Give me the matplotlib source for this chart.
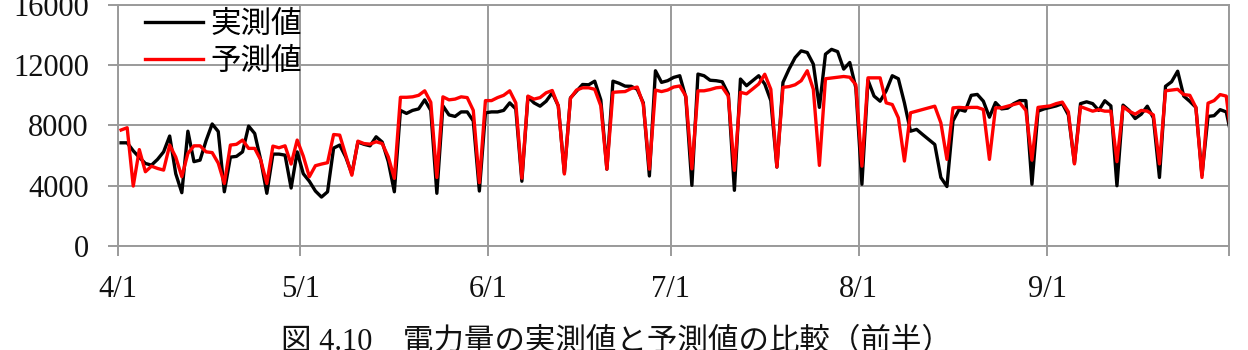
import numpy as np
import pandas as pd
import matplotlib
matplotlib.use('Agg')
import matplotlib.pyplot as plt

plt.rcParams['font.family'] = ['Liberation Serif', 'Noto Sans CJK JP']

gridcol = '#9a9a9a'
actcol  = '#000000'
predcol = '#ff0000'

# daily values from 4/1 (the last one, 10/1, is clipped by the axis edge)
dates = pd.date_range('2013-04-01', periods=184)

actual = [
    6850, 6850, 6320, 5880, 5480, 5370, 5750, 6250, 7300, 4800,
    3540, 7620, 5600, 5700, 7000, 8100, 7600, 3600, 5900, 5950,
    6250, 7960, 7470, 5700, 3500, 6100, 6100, 6030, 3850, 6250,
    4800, 4300, 3650, 3250, 3600, 6500, 6700, 5900, 4800, 6900,
    6750, 6650, 7250, 6900, 5600, 3600, 9000, 8800, 9000, 9100,
    9700, 9000, 3500, 9300, 8700, 8600, 8900, 8900, 8300, 3650,
    8840, 8900, 8900, 9000, 9500, 9100, 4300, 9900, 9500, 9280,
    9610, 10170, 9300, 4850, 9830, 10280, 10720, 10700, 10940, 9700,
    5100, 10940, 10800, 10610, 10600, 10400, 9500, 4650, 11630, 10860,
    10970, 11190, 11300, 9870, 4030, 11410, 11300, 11000, 10970, 10900,
    10090, 3700, 11080, 10640, 10970, 11300, 10750, 9650, 5240, 10860,
    11740, 12500, 12950, 12840, 12070, 9200, 12730, 13050, 12900, 11740,
    12180, 10500, 4100, 11000, 9950, 9610, 10300, 11300, 11100, 9500,
    7620, 7740, 7400, 7070, 6740, 4550, 3950, 8300, 9060, 8950,
    10000, 10060, 9610, 8550, 9520, 9100, 9150, 9450, 9650, 9650,
    4100, 8950, 9100, 9200, 9300, 9450, 8700, 5500, 9450, 9570,
    9450, 9000, 9640, 9300, 4000, 9350, 9000, 8460, 8750, 9280,
    8500, 4550, 10600, 10900, 11600, 9950, 9600, 9200, 4700, 8600,
    8650, 9050, 8900, 7000,
]

predicted = [
    7700, 7850, 3980, 6400, 4930, 5300, 5150, 5040, 6700, 5900,
    4600, 6150, 6650, 6650, 6250, 6200, 5500, 4150, 6700, 6750,
    7030, 6480, 6480, 5700, 4150, 6630, 6520, 6650, 5440, 7030,
    5970, 4600, 5330, 5440, 5530, 7400, 7360, 6030, 4700, 6960,
    6800, 6760, 6920, 6800, 5920, 4490, 9870, 9870, 9900, 10000,
    10300, 9540, 4550, 9900, 9700, 9750, 9900, 9850, 9000, 4200,
    9650, 9650, 9850, 10000, 10300, 9500, 4500, 9950, 9750, 9850,
    10170, 10320, 9300, 4780, 9800, 10350, 10500, 10500, 10400, 9300,
    5100, 10200, 10230, 10250, 10450, 10550, 9400, 5100, 10350, 10250,
    10350, 10550, 10620, 9950, 5120, 10300, 10300, 10380, 10500, 10540,
    9950, 5020, 10200, 10100, 10420, 10750, 11400, 10400, 5240, 10530,
    10580, 10700, 10970, 11630, 10400, 5350, 11100, 11150, 11200, 11250,
    11200, 10700, 5300, 11160, 11160, 11160, 9500, 9390, 8510, 5640,
    8840, 8950, 9060, 9170, 9280, 8180, 5750, 9170, 9200, 9170,
    9200, 9200, 9060, 5750, 9170, 9170, 9280, 9390, 9500, 9000,
    5700, 9200, 9250, 9300, 9450, 9550, 8900, 5450, 9250, 9100,
    8950, 9050, 8950, 8950, 5600, 9240, 8950, 8750, 9000, 8950,
    8700, 5450, 10300, 10350, 10400, 10050, 10000, 9200, 4550, 9480,
    9650, 10050, 9950, 6700,
]

month_starts = ['2013-04-01', '2013-05-01', '2013-06-01', '2013-07-01',
                '2013-08-01', '2013-09-01', '2013-10-01']
month_labels = ['4/1', '5/1', '6/1', '7/1', '8/1', '9/1', '']
yticks = [0, 4000, 8000, 12000, 16000]

# day number, each value sits in the middle of its day
x = (dates - dates[0]).days.values + 0.5
xt = [(pd.Timestamp(m) - dates[0]).days for m in month_starts]

fig = plt.figure(figsize=(12.48, 3.5), dpi=100)
ax = fig.add_axes([0.0946, 0.297, 0.8904, 0.689])

ax.plot(x, actual, color=actcol, lw=2.4, label='実測値', solid_joinstyle='round')
ax.plot(x, predicted, color=predcol, lw=2.4, label='予測値', solid_joinstyle='round')

ax.set_xlim(0, xt[-1])
ax.set_ylim(0, 16000)
ax.set_xticks(xt)
ax.set_xticklabels(month_labels)
ax.set_yticks(yticks)
ax.grid(True, color=gridcol, lw=1.4)
ax.set_axisbelow(True)
for s in ax.spines.values():
    s.set_color(gridcol)
    s.set_linewidth(1.4)
ax.tick_params(axis='both', direction='out', length=7, width=1.4,
               color=gridcol, labelsize=22, labelcolor='#111111')
ax.tick_params(axis='x', pad=14)
ax.tick_params(axis='y', pad=14)

ax.legend(loc='upper left', bbox_to_anchor=(0.024, 0.977), frameon=False,
          fontsize=22, handlelength=1.9, handletextpad=0.25,
          labelspacing=0.27, borderpad=0, borderaxespad=0)

fig.text(0.494, 0.062, '図 4.10\u3000電力量の実測値と予測値の比較（前半）',
         ha='center', va='top', fontsize=22, color='#111111')

fig.savefig('out.png', dpi=100, facecolor='white')
